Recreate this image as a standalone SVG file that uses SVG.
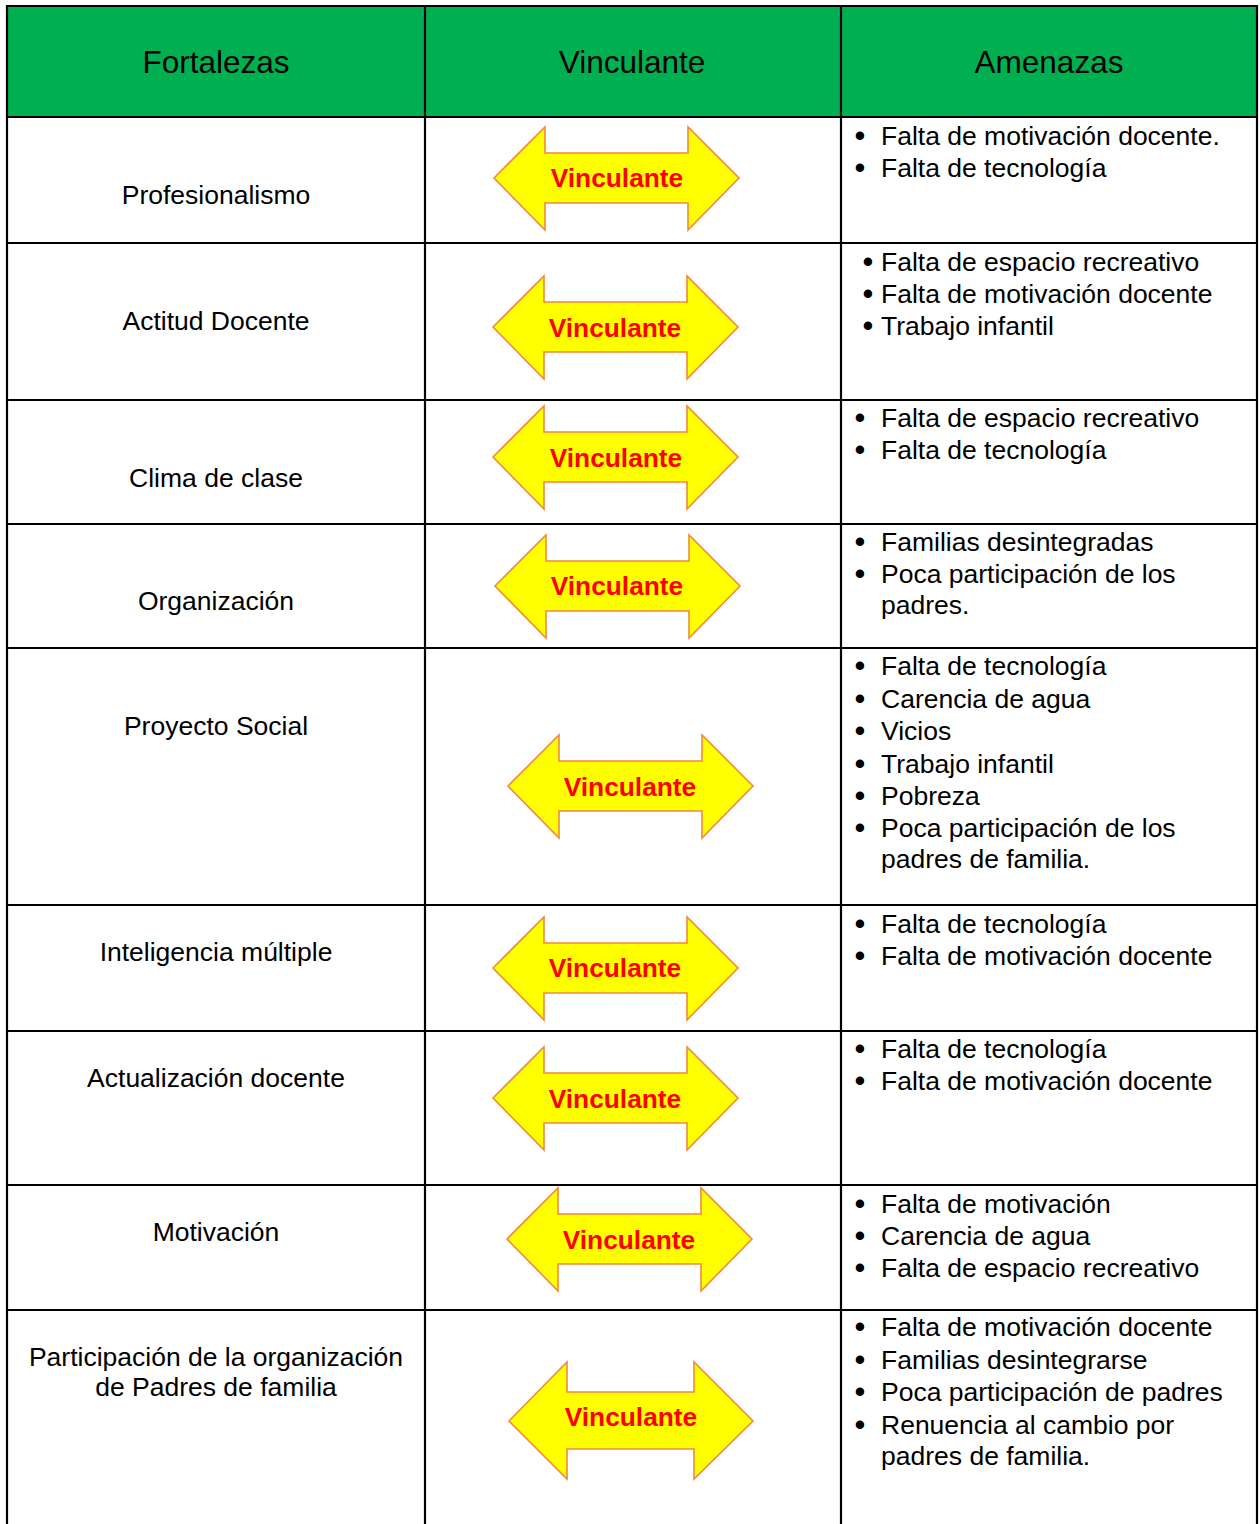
<svg xmlns="http://www.w3.org/2000/svg" width="1260" height="1524" viewBox="0 0 1260 1524">
<style>
.hdr{font-family:"Liberation Sans",Arial,sans-serif;font-size:31.5px;fill:#000;text-anchor:middle}
.t{font-family:"Liberation Sans",Arial,sans-serif;font-size:26.5px;fill:#000}
.c{text-anchor:middle;font-size:31px}
.f{text-anchor:middle;font-size:26.5px}
.v{font-family:"Liberation Sans",Arial,sans-serif;font-size:26.3px;font-weight:bold;fill:#FF0000;text-anchor:middle}
.arr{fill:#FFFF00;stroke:#F08A3C;stroke-width:1.6;stroke-linejoin:miter}
.grid{stroke:#000;stroke-width:2.2;fill:none}
</style>
<defs>
<path id="a" class="arr" d="M0,51 L51,0 L51,26 L194,26 L194,0 L245,51 L194,103 L194,76 L51,76 L51,103 Z"/>
<path id="b" class="arr" d="M0,59 L58,0 L58,30 L185,30 L185,0 L244,59 L185,117 L185,87 L58,87 L58,117 Z"/>
</defs>
<rect width="1260" height="1524" fill="#fff"/>
<g id="header">
<rect x="6" y="6" width="1251" height="111" fill="#00B050"/>
<text class="hdr" x="216" y="73">Fortalezas</text>
<text class="hdr" x="632" y="73">Vinculante</text>
<text class="hdr" x="1049" y="73">Amenazas</text>
</g>
<g id="grid" class="grid">
<line x1="7" y1="5" x2="7" y2="1524"/>
<line x1="425" y1="5" x2="425" y2="1524"/>
<line x1="841" y1="5" x2="841" y2="1524"/>
<line x1="1257" y1="5" x2="1257" y2="1524"/>
<line x1="6" y1="6" x2="1258" y2="6"/>
<line x1="6" y1="117" x2="1258" y2="117"/>
<line x1="6" y1="243" x2="1258" y2="243"/>
<line x1="6" y1="400" x2="1258" y2="400"/>
<line x1="6" y1="524" x2="1258" y2="524"/>
<line x1="6" y1="648" x2="1258" y2="648"/>
<line x1="6" y1="905" x2="1258" y2="905"/>
<line x1="6" y1="1031" x2="1258" y2="1031"/>
<line x1="6" y1="1185" x2="1258" y2="1185"/>
<line x1="6" y1="1310" x2="1258" y2="1310"/>
</g>
<g id="fortalezas">
<text class="t f" x="216" y="204">Profesionalismo</text>
<text class="t f" x="216" y="330">Actitud Docente</text>
<text class="t f" x="216" y="487">Clima de clase</text>
<text class="t f" x="216" y="610">Organización</text>
<text class="t f" x="216" y="735">Proyecto Social</text>
<text class="t f" x="216" y="961">Inteligencia múltiple</text>
<text class="t f" x="216" y="1087">Actualización docente</text>
<text class="t f" x="216" y="1241">Motivación</text>
<text class="t f" x="216" y="1366">Participación de la organización</text>
<text class="t f" x="216" y="1396">de Padres de familia</text>
</g>
<g id="vinculantes">
<g id="v1"><use href="#a" x="494" y="127"/><text class="v" x="617" y="187">Vinculante</text></g>
<g id="v2"><use href="#a" x="493" y="276"/><text class="v" x="615" y="337">Vinculante</text></g>
<g id="v3"><use href="#a" x="493" y="406"/><text class="v" x="616" y="467">Vinculante</text></g>
<g id="v4"><use href="#a" x="495" y="535"/><text class="v" x="617" y="595">Vinculante</text></g>
<g id="v5"><use href="#a" x="508" y="735"/><text class="v" x="630" y="796">Vinculante</text></g>
<g id="v6"><use href="#a" x="493" y="917"/><text class="v" x="615" y="977">Vinculante</text></g>
<g id="v7"><use href="#a" x="493" y="1047"/><text class="v" x="615" y="1108">Vinculante</text></g>
<g id="v8"><use href="#a" x="507" y="1188"/><text class="v" x="629" y="1249">Vinculante</text></g>
<g id="v9"><use href="#b" x="509" y="1362"/><text class="v" x="631" y="1426">Vinculante</text></g>
</g>
<g id="amenazas">
<g id="a1">
<text class="t c" x="860" y="146">•</text><text class="t" x="881" y="145">Falta de motivación docente.</text>
<text class="t c" x="860" y="178">•</text><text class="t" x="881" y="177">Falta de tecnología</text>
</g>
<g id="a2">
<text class="t c" x="868" y="272">•</text><text class="t" x="881" y="271">Falta de espacio recreativo</text>
<text class="t c" x="868" y="304">•</text><text class="t" x="881" y="303">Falta de motivación docente</text>
<text class="t c" x="868" y="336">•</text><text class="t" x="881" y="335">Trabajo infantil</text>
</g>
<g id="a3">
<text class="t c" x="860" y="428">•</text><text class="t" x="881" y="427">Falta de espacio recreativo</text>
<text class="t c" x="860" y="460">•</text><text class="t" x="881" y="459">Falta de tecnología</text>
</g>
<g id="a4">
<text class="t c" x="860" y="552">•</text><text class="t" x="881" y="551">Familias desintegradas</text>
<text class="t c" x="860" y="584">•</text><text class="t" x="881" y="583">Poca participación de los</text>
<text class="t" x="881" y="614">padres.</text>
</g>
<g id="a5">
<text class="t c" x="860" y="676">•</text><text class="t" x="881" y="675">Falta de tecnología</text>
<text class="t c" x="860" y="709">•</text><text class="t" x="881" y="708">Carencia de agua</text>
<text class="t c" x="860" y="741">•</text><text class="t" x="881" y="740">Vicios</text>
<text class="t c" x="860" y="774">•</text><text class="t" x="881" y="773">Trabajo infantil</text>
<text class="t c" x="860" y="806">•</text><text class="t" x="881" y="805">Pobreza</text>
<text class="t c" x="860" y="838">•</text><text class="t" x="881" y="837">Poca participación de los</text>
<text class="t" x="881" y="868">padres de familia.</text>
</g>
<g id="a6">
<text class="t c" x="860" y="934">•</text><text class="t" x="881" y="933">Falta de tecnología</text>
<text class="t c" x="860" y="966">•</text><text class="t" x="881" y="965">Falta de motivación docente</text>
</g>
<g id="a7">
<text class="t c" x="860" y="1059">•</text><text class="t" x="881" y="1058">Falta de tecnología</text>
<text class="t c" x="860" y="1091">•</text><text class="t" x="881" y="1090">Falta de motivación docente</text>
</g>
<g id="a8">
<text class="t c" x="860" y="1214">•</text><text class="t" x="881" y="1213">Falta de motivación</text>
<text class="t c" x="860" y="1246">•</text><text class="t" x="881" y="1245">Carencia de agua</text>
<text class="t c" x="860" y="1278">•</text><text class="t" x="881" y="1277">Falta de espacio recreativo</text>
</g>
<g id="a9">
<text class="t c" x="860" y="1337">•</text><text class="t" x="881" y="1336">Falta de motivación docente</text>
<text class="t c" x="860" y="1370">•</text><text class="t" x="881" y="1369">Familias desintegrarse</text>
<text class="t c" x="860" y="1402">•</text><text class="t" x="881" y="1401">Poca participación de padres</text>
<text class="t c" x="860" y="1435">•</text><text class="t" x="881" y="1434">Renuencia al cambio por</text>
<text class="t" x="881" y="1465">padres de familia.</text>
</g>
</g>
</svg>
